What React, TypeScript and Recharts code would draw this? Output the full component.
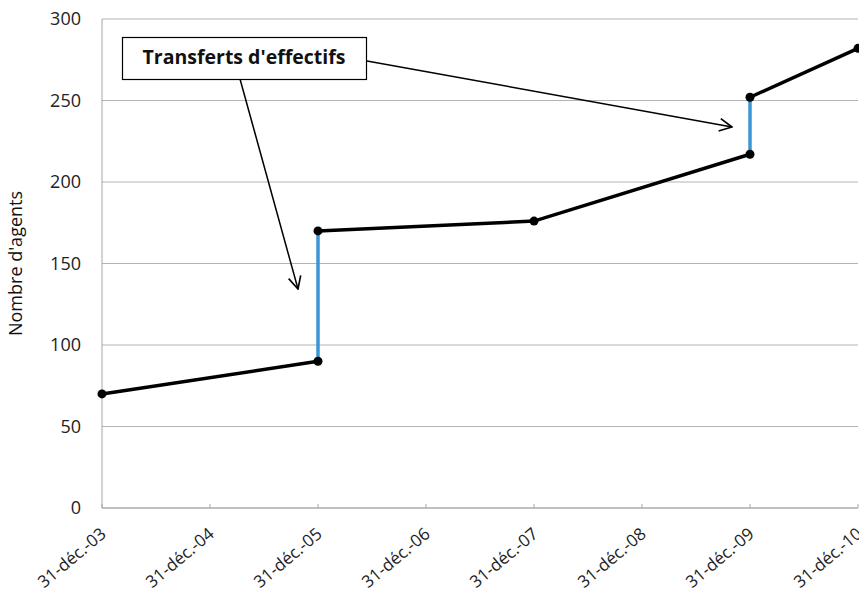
import React from "react";
import { LineChart, Line, XAxis, YAxis, CartesianGrid } from "recharts";

// Years (31 December of each year)
const tickYears = [2003, 2004, 2005, 2006, 2007, 2008, 2009, 2010];
const yTicks = [0, 50, 100, 150, 200, 250, 300];

// Staff counts, black segments
const seg1 = [
  { x: 2003, y: 70 },
  { x: 2005, y: 90 },
];
const seg2 = [
  { x: 2005, y: 170 },
  { x: 2007, y: 176 },
  { x: 2009, y: 217 },
];
const seg3 = [
  { x: 2009, y: 252 },
  { x: 2010, y: 282 },
];
// Staff transfers (vertical jumps, blue)
const jump1 = [
  { x: 2005, y: 90 },
  { x: 2005, y: 170 },
];
const jump2 = [
  { x: 2009, y: 217 },
  { x: 2009, y: 252 },
];

const annotationText = "Transferts d'effectifs";
const yLabel = "Nombre d'agents";

const FONT = "'Open Sans', 'DejaVu Sans', sans-serif";

const fmtX = (v: number) => `31-déc.-${String(v % 100).padStart(2, "0")}`;

const XTick = (props: any) => {
  const { x, y, payload } = props;
  return (
    <g transform={`translate(${x + 2},${y + 18})`}>
      <text
        textAnchor="end"
        transform="rotate(-40)"
        fontSize={17}
        fontFamily={FONT}
        fill="#222"
        dy={5}
      >
        {fmtX(payload.value)}
      </text>
    </g>
  );
};

const blackDot = { r: 4.5, fill: "#000", stroke: "#000", strokeWidth: 0 };

export default function App() {
  return (
    <div
      style={{
        position: "absolute",
        left: 0,
        top: 0,
        width: 859,
        height: 598,
        background: "#fff",
        overflow: "hidden",
      }}
    >
      <LineChart
        width={859}
        height={598}
        margin={{ top: 19, right: 1, bottom: 0, left: 0 }}
      >
        <CartesianGrid
          horizontal={true}
          vertical={false}
          stroke="#b3b3b3"
          strokeWidth={1}
        />
        <XAxis
          type="number"
          dataKey="x"
          domain={[2003, 2010]}
          ticks={tickYears}
          allowDuplicatedCategory={false}
          height={90}
          stroke="#a6a6a6"
          tickSize={4}
          tickLine={{ stroke: "#a6a6a6", transform: "translate(0,-4)" } as any}
          tick={<XTick />}
          interval={0}
        />
        <YAxis
          type="number"
          domain={[0, 300]}
          ticks={yTicks}
          width={102}
          stroke="#a6a6a6"
          tickLine={false}
          tickSize={0}
          tickMargin={21}
          tick={{ fontSize: 18, fontFamily: FONT, fill: "#222" }}
          interval={0}
          label={{
            value: yLabel,
            angle: -90,
            position: "insideLeft",
            offset: 16,
            style: {
              fontSize: 18,
              fontFamily: FONT,
              fill: "#111",
              textAnchor: "middle",
            },
          }}
        />
        <Line
          data={jump1}
          dataKey="y"
          stroke="#3a97d3"
          strokeWidth={3.5}
          dot={false}
          isAnimationActive={false}
        />
        <Line
          data={jump2}
          dataKey="y"
          stroke="#3a97d3"
          strokeWidth={3.5}
          dot={false}
          isAnimationActive={false}
        />
        <Line
          data={seg1}
          dataKey="y"
          stroke="#000"
          strokeWidth={3.5}
          dot={blackDot}
          isAnimationActive={false}
        />
        <Line
          data={seg2}
          dataKey="y"
          stroke="#000"
          strokeWidth={3.5}
          dot={blackDot}
          isAnimationActive={false}
        />
        <Line
          data={seg3}
          dataKey="y"
          stroke="#000"
          strokeWidth={3.5}
          dot={blackDot}
          isAnimationActive={false}
        />
      </LineChart>
      <svg
        width={859}
        height={598}
        style={{ position: "absolute", left: 0, top: 0, pointerEvents: "none" }}
      >
        <defs>
          <marker
            id="openArrow"
            viewBox="0 0 12 12"
            refX="11"
            refY="6"
            markerWidth="15"
            markerHeight="15"
            markerUnits="userSpaceOnUse"
            orient="auto"
          >
            <path d="M1,1 L11,6 L1,11" fill="none" stroke="#000" strokeWidth={1.3} />
          </marker>
        </defs>
        <line
          x1={240}
          y1={79}
          x2={298}
          y2={289}
          stroke="#000"
          strokeWidth={1.5}
          markerEnd="url(#openArrow)"
        />
        <line
          x1={367}
          y1={61}
          x2={732}
          y2={127}
          stroke="#000"
          strokeWidth={1.5}
          markerEnd="url(#openArrow)"
        />
        <rect x={122.5} y={37.5} width={244} height={42} fill="#fff" stroke="#000" strokeWidth={1.2} />
        <text
          x={244}
          y={64}
          textAnchor="middle"
          fontSize={19.5}
          fontWeight="bold"
          fontFamily={FONT}
          fill="#111"
        >
          {annotationText}
        </text>
      </svg>
    </div>
  );
}
